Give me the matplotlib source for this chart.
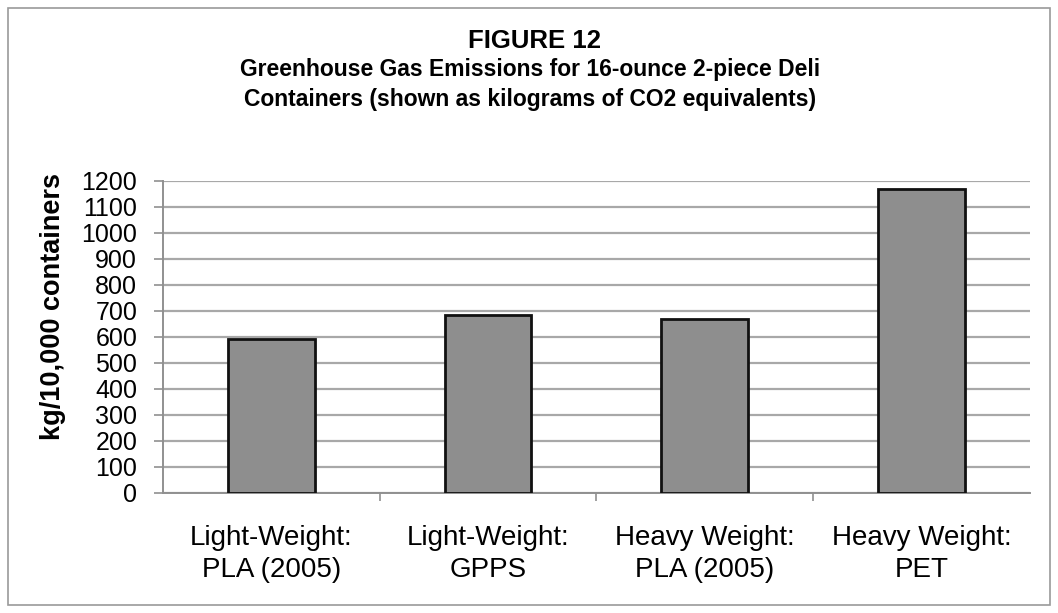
import matplotlib
matplotlib.use("Agg")
import matplotlib.pyplot as plt
from matplotlib.patches import Rectangle

categories = ["Light-Weight:\nPLA (2005)", "Light-Weight:\nGPPS",
              "Heavy Weight:\nPLA (2005)", "Heavy Weight:\nPET"]
values = [592, 685, 669, 1170]
yticks = list(range(0, 1300, 100))

plt.rcParams["font.family"] = ["Liberation Sans", "DejaVu Sans"]

fig = plt.figure(figsize=(10.58, 6.13), dpi=100)
ax = fig.add_axes([0.154, 0.196, 0.8195, 0.509])

x = list(range(len(values)))
ax.bar(x, values, width=0.4, color="#8e8e8e", edgecolor="#111111", linewidth=2, zorder=3)

ax.set_xlim(-0.5, len(values) - 0.5)
ax.set_ylim(0, 1200)
ax.set_yticks(yticks)
ax.set_yticklabels([str(v) for v in yticks], fontsize=18)
ax.yaxis.grid(True, color="#a8a8a8", linewidth=1.6, zorder=0)

# category labels centred, ticks on category boundaries
ax.set_xticks(x)
ax.set_xticklabels(categories, fontsize=20, linespacing=1.3)
ax.tick_params(axis="x", length=0, pad=23)
ax.set_xticks([i + 0.5 for i in x[:-1]], minor=True)
ax.tick_params(axis="x", which="minor", length=6, color="#909090", width=1.2)
ax.tick_params(axis="y", length=6.5, color="#909090", width=1.2, pad=12)

for s in ("top", "right"):
    ax.spines[s].set_visible(False)
for s in ("left", "bottom"):
    ax.spines[s].set_color("#909090")
    ax.spines[s].set_linewidth(1.4)

ax.set_ylabel("kg/10,000 containers", fontsize=19.5, fontweight="bold")
ax.yaxis.set_label_coords(53 / 1058, 0.5, transform=fig.transFigure)
ax.yaxis.label.set_va("center")

fig.text(0.505, 1 - 48 / 613, "FIGURE 12", ha="center", va="baseline",
         fontsize=18.5, fontweight="bold")
fig.text(0.501, 1 - 76 / 613, "Greenhouse Gas Emissions for 16-ounce 2-piece Deli",
         ha="center", va="baseline", fontsize=16.5, fontweight="bold")
fig.text(0.501, 1 - 106 / 613, "Containers (shown as kilograms of CO2 equivalents)",
         ha="center", va="baseline", fontsize=16.5, fontweight="bold")

fig.patches.append(Rectangle((8 / 1058, 8 / 613), 1 - 16 / 1058, 1 - 16 / 613,
                             transform=fig.transFigure, fill=False,
                             edgecolor="#9a9a9a", linewidth=1.2))

fig.savefig("out.png", dpi=100)
